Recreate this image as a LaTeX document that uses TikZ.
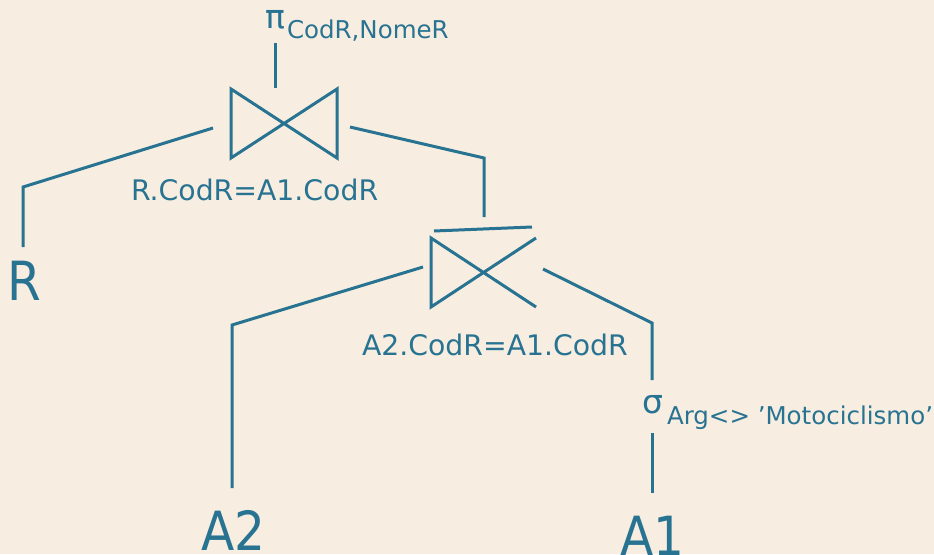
\documentclass[tikz,border=0pt]{standalone}
\usepackage{fontspec}
\setmainfont{DejaVu Sans}
\newfontfamily\condfont{DejaVu Sans Condensed}
\definecolor{bgc}{RGB}{247,238,225}
\definecolor{ink}{RGB}{40,115,145}
\tikzset{
  edge/.style={draw=ink, line width=3pt, line join=miter},
  lbl/.style={inner sep=0pt, outer sep=0pt, anchor=base west, text=ink},
  big/.style={lbl, font=\condfont\fontsize{54}{54}\selectfont},
  cond/.style={lbl, font=\fontsize{28.3}{28.3}\selectfont},
  sub/.style={lbl, font=\fontsize{24.5}{24.5}\selectfont},
  greek/.style={lbl, font=\fontsize{33}{33}\selectfont},
}
\begin{document}
\begin{tikzpicture}[x=1pt, y=-1pt]
\fill[bgc] (0,0) rectangle (934,554);
\useasboundingbox (0,0) rectangle (934,554);

% texts
\node[greek] (pi) at (265,28) {π};
\node[sub] (pisub) at (287,38) {CodR,NomeR};
\node[cond] (c1) at (131,200) {R.CodR=A1.CodR};
\node[cond] (c2) at (362,355) {A2.CodR=A1.CodR};
\node[greek] (sigma) at (642,413) {σ};
\node[sub] (sigsub) at (667,424) {Arg<> ’Motociclismo’};
\node[big] (R) at (7,300) {R};
\node[big] (A2) at (201,550) {A2};
\node[big] (A1) at (620,555) {A1};

% coordinates
\coordinate (p1) at (275,43);
\coordinate (p2) at (275,88);
\coordinate (j1a) at (231,89);
\coordinate (j1b) at (337,158);
\coordinate (j1c) at (337,89);
\coordinate (j1d) at (231,158);
\coordinate (l1s) at (213,128);
\coordinate (l1c) at (23,187);
\coordinate (l1e) at (23,247);
\coordinate (r1s) at (350,127);
\coordinate (r1c) at (484,158);
\coordinate (r1e) at (484,217);
\coordinate (t2a) at (434,231);
\coordinate (t2b) at (532,227);
\coordinate (j2a) at (536,307);
\coordinate (j2b) at (431,238);
\coordinate (j2c) at (431,307);
\coordinate (j2d) at (536,238);
\coordinate (l2s) at (423,267);
\coordinate (l2c) at (232,325);
\coordinate (l2e) at (232,488);
\coordinate (r2s) at (543,269);
\coordinate (r2c) at (652,323);
\coordinate (r2e) at (652,380);
\coordinate (s1) at (652,433);
\coordinate (s2) at (652,493);

% connectors
\draw[edge] (p1) -- (p2);
\draw[edge] (j1a) -- (j1b) -- (j1c) -- (j1d) -- cycle;
\draw[edge] (l1s) -- (l1c) -- (l1e);
\draw[edge] (r1s) -- (r1c) -- (r1e);
\draw[edge] (t2a) -- (t2b);
\draw[edge] (j2a) -- (j2b) -- (j2c) -- (j2d);
\draw[edge] (l2s) -- (l2c) -- (l2e);
\draw[edge] (r2s) -- (r2c) -- (r2e);
\draw[edge] (s1) -- (s2);
\end{tikzpicture}
\end{document}
